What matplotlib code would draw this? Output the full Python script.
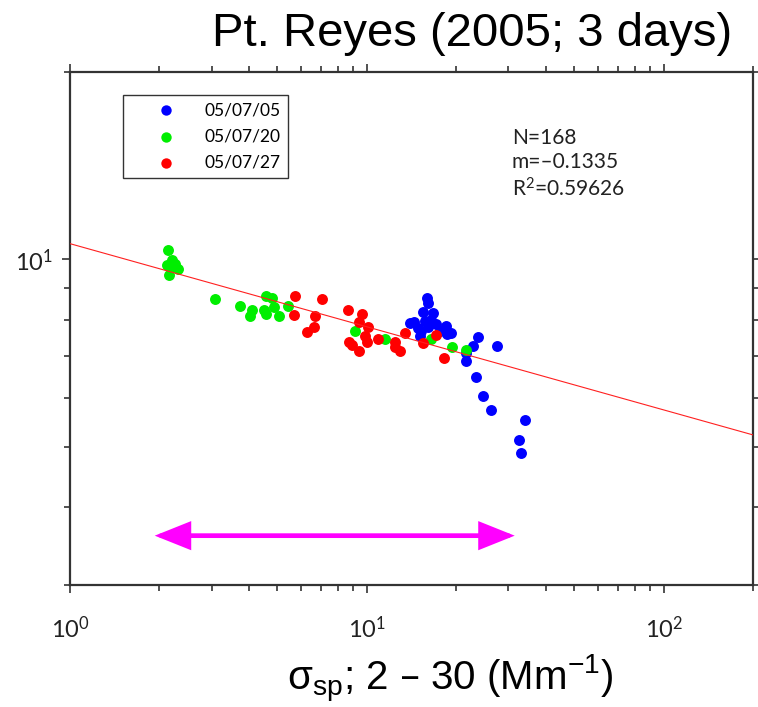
import numpy as np
import matplotlib
matplotlib.use("Agg")
import matplotlib.pyplot as plt
from matplotlib.ticker import LogLocator, NullFormatter, LogFormatterSciNotation

# ── data ──────────────────────────────────────────────────────────────────────

blue_x = [15.92, 16.09, 15.44, 14.40, 15.68, 16.51, 17.17, 18.55, 19.18, 15.28,
          15.08, 23.70, 22.75, 27.40, 21.54, 23.34, 24.64, 26.30, 34.04, 32.57,
          33.19, 14.85, 16.05, 17.62, 16.68, 13.96, 21.54, 18.59]
blue_y = [8.67, 8.50, 8.22, 7.92, 7.97, 8.00, 7.88, 7.83, 7.61, 7.68,
          7.54, 7.50, 7.27, 7.27, 6.87, 6.48, 6.03, 5.74, 5.53, 5.12,
          4.89, 7.77, 7.80, 7.68, 8.21, 7.91, 7.08, 7.60]

green_x = [2.14, 2.20, 2.12, 2.26, 2.32, 2.16, 2.23, 3.09, 3.74, 4.12,
           4.04, 4.56, 4.78, 4.50, 4.59, 4.86, 5.07, 5.43, 9.11, 11.50,
           16.51, 19.44, 21.54]
green_y = [10.34, 9.96, 9.78, 9.84, 9.66, 9.45, 9.72, 8.64, 8.41, 8.28,
           8.12, 8.73, 8.66, 8.28, 8.17, 8.38, 8.10, 8.41, 7.68, 7.45,
           7.45, 7.24, 7.15]

red_x = [5.72, 5.68, 6.68, 6.63, 6.31, 7.05, 8.65, 9.60, 9.42, 10.10,
         9.85, 8.72, 9.42, 9.98, 10.92, 12.43, 12.43, 12.91, 13.43, 15.47,
         17.17, 18.17, 8.90]
red_y = [8.75, 8.14, 8.10, 7.80, 7.65, 8.64, 8.30, 8.17, 7.92, 7.78,
         7.54, 7.36, 7.13, 7.36, 7.45, 7.36, 7.24, 7.13, 7.63, 7.33,
         7.57, 6.94, 7.29]

series_labels = ["05/07/05", "05/07/20", "05/07/27"]

# power-law fit  y = a * x**m
fit_a = 10.6
fit_m = -0.1335
fit_n = 168
fit_r2 = 0.59626

# magenta range arrow (2 - 30 Mm-1)
range_x = [1.93, 31.5]
range_y = 3.6

x_lim = (1, 200)
y_lim = (3, 20)

# ── plot ──────────────────────────────────────────────────────────────────────

plt.rcParams["font.family"] = ["Lato", "DejaVu Sans"]
plt.rcParams["mathtext.default"] = "regular"

fig = plt.figure(figsize=(7.58, 7.07), dpi=100)
ax = fig.add_axes([0.0923, 0.1726, 0.9011, 0.7256])

ms = 62
ax.scatter(blue_x, blue_y, s=ms, color="#0000ff", lw=0, label=series_labels[0], zorder=3)
ax.scatter(green_x, green_y, s=ms, color="#00ee00", lw=0, label=series_labels[1], zorder=3)
ax.scatter(red_x, red_y, s=ms, color="#ff0000", lw=0, label=series_labels[2], zorder=3)

xf = np.logspace(np.log10(x_lim[0]), np.log10(x_lim[1]), 50)
ax.plot(xf, fit_a * xf ** fit_m, color="#ff2020", lw=0.8, zorder=4)

ax.annotate("", xy=(range_x[1], range_y), xytext=(range_x[0], range_y),
            arrowprops=dict(arrowstyle="<|-|>,head_length=1.0,head_width=0.4",
                            mutation_scale=20, lw=3.4, color="#ff00ff",
                            shrinkA=0, shrinkB=0, joinstyle="miter"),
            zorder=2)

ax.set_xscale("log")
ax.set_yscale("log")
ax.set_xlim(*x_lim)
ax.set_ylim(*y_lim)

ax.xaxis.set_major_locator(LogLocator(base=10))
ax.yaxis.set_major_locator(LogLocator(base=10))
ax.xaxis.set_major_formatter(LogFormatterSciNotation())
ax.yaxis.set_major_formatter(LogFormatterSciNotation())
ax.xaxis.set_minor_formatter(NullFormatter())
ax.yaxis.set_minor_formatter(NullFormatter())

ax.tick_params(which="both", direction="out", top=True, right=True,
               color="#333333", width=1.2, labelsize=17, labelcolor="#222222")
ax.tick_params(which="major", length=6)
ax.tick_params(which="minor", length=4)
ax.tick_params(axis="x", which="major", pad=16)
ax.tick_params(axis="y", which="major", pad=6)
for sp in ax.spines.values():
    sp.set_linewidth(1.6)
    sp.set_color("#333333")

leg = ax.legend(loc="upper left", bbox_to_anchor=(0.0776, 0.955), borderaxespad=0,
                fontsize=12.5, frameon=True, fancybox=False, edgecolor="black",
                handletextpad=0.2, labelspacing=0.6, borderpad=0.4,
                markerscale=0.95, handlelength=4.1)
leg.get_frame().set_linewidth(1.0)

stats = "N=%d\nm=\u2013%.4f\nR$^{2}$=%.5f" % (fit_n, abs(fit_m), fit_r2)
ax.text(0.647, 0.89, stats, transform=ax.transAxes, fontsize=15,
        va="top", ha="left", linespacing=1.25, color="#222222")

fig.text(0.623, 0.952, "Pt. Reyes (2005; 3 days)", fontsize=34,
         family=["Liberation Sans", "DejaVu Sans"], ha="center", va="center")
fig.text(0.594, 0.040, "$\\sigma_{sp}$; 2 \u2013 30 (Mm$^{-1}$)",
         fontsize=29, family=["Liberation Sans", "DejaVu Sans"], ha="center", va="center")

fig.savefig("out.png", dpi=100)
